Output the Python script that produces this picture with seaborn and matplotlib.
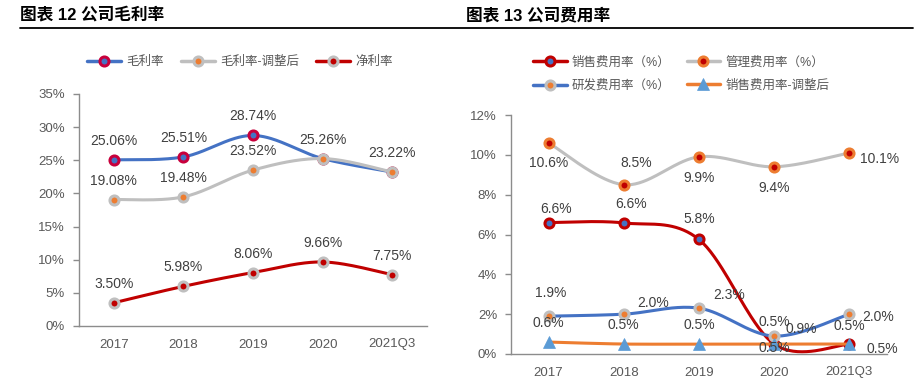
import numpy as np
import pandas as pd
import matplotlib
matplotlib.use("Agg")
import matplotlib.pyplot as plt
from matplotlib.lines import Line2D
import seaborn as sns

# data
years = ["2017", "2018", "2019", "2020", "2021Q3"]

gross = [25.06, 25.51, 28.74, 25.26, 23.22]
gross_adj = [19.08, 19.48, 23.52, 25.26, 23.22]
net = [3.50, 5.98, 8.06, 9.66, 7.75]

sales = [6.6, 6.58, 5.75, 0.5, 0.5]
admin = [10.6, 8.5, 9.9, 9.4, 10.1]
rnd = [1.9, 2.0, 2.3, 0.9, 2.0]
sales_adj = [0.6, 0.5, 0.5, 0.5, 0.5]

sns.set_style("white")
plt.rcParams["font.family"] = ["Liberation Sans", "Noto Sans CJK SC"]
plt.rcParams["axes.unicode_minus"] = False

BLUE, RED, GREY, ORANGE, LBLUE, CRIMSON = "#4472C4", "#C00000", "#BFBFBF", "#ED7D31", "#5B9BD5", "#C8003C"
TXT, TICK, SPINE = "#404040", "#595959", "#8C8C8C"


def smooth(yv, n=40):
    # Excel-like smoothed line (Catmull-Rom as cubic Bezier segments)
    pts = np.column_stack([np.arange(len(yv)), yv]).astype(float)
    p = np.vstack([pts[0], pts, pts[-1]])
    out = []
    t = np.linspace(0, 1, n)[:, None]
    for i in range(1, len(p) - 2):
        p0, p1, p2, p3 = p[i - 1], p[i], p[i + 1], p[i + 2]
        c1 = p1 + (p2 - p0) / 6
        c2 = p2 - (p3 - p1) / 6
        seg = (1 - t) ** 3 * p1 + 3 * (1 - t) ** 2 * t * c1 + 3 * (1 - t) * t ** 2 * c2 + t ** 3 * p2
        out.append(seg if i == 1 else seg[1:])
    s = np.vstack(out)
    return pd.DataFrame({"x": s[:, 0], "y": s[:, 1]})


def series(ax, vals, color, mface, medge, marker="o", ms=6.5, mew=2.2):
    d = smooth(vals)
    sns.lineplot(data=d, x="x", y="y", sort=False, estimator=None, ax=ax, color=color, lw=2.2)
    ax.plot(range(len(vals)), vals, ls="none", marker=marker, ms=ms, mfc=mface, mec=medge, mew=mew)


def labels(ax, vals, offs, fmt="{:.2f}%", skip=()):
    for i, (v, o) in enumerate(zip(vals, offs)):
        if i in skip:
            continue
        ax.annotate(fmt.format(v), (i, v), xytext=o, textcoords="offset pixels",
                    ha="center", va="center", fontsize=10, color=TXT)


def style(ax, ymax, step):
    ax.set_xlim(-0.5, 4.5)
    ax.set_ylim(0, ymax)
    ax.set_yticks(np.arange(0, ymax + 0.01, step))
    ax.set_yticklabels([f"{int(v)}%" for v in np.arange(0, ymax + 0.01, step)])
    ax.set_xticks(range(5))
    ax.set_xticklabels(years)
    ax.set_xticks(np.arange(-0.5, 4.6, 1), minor=True)
    ax.tick_params(axis="x", which="major", length=0, pad=9, labelsize=9.5, colors=TICK)
    ax.tick_params(axis="x", which="minor", length=4, width=1, color=SPINE, direction="out")
    ax.tick_params(axis="y", length=4, width=1, color=SPINE, direction="out", pad=6,
                   labelsize=9.5, labelcolor=TICK, left=True)
    for s in ["top", "right"]:
        ax.spines[s].set_visible(False)
    for s in ["left", "bottom"]:
        ax.spines[s].set_color(SPINE)
        ax.spines[s].set_linewidth(1)
    ax.set_xlabel("")
    ax.set_ylabel("")


fig = plt.figure(figsize=(9.23, 3.81), dpi=100)

# ---- left: margins
ax1 = fig.add_axes([79 / 923, 55 / 381, 348 / 923, 232 / 381])
series(ax1, gross, BLUE, BLUE, CRIMSON)
series(ax1, gross_adj, GREY, ORANGE, GREY)
series(ax1, net, RED, RED, GREY)
style(ax1, 35, 5)
up = [(0, 19)] * 5
labels(ax1, gross, up)
labels(ax1, gross_adj, up, skip=(3, 4))
labels(ax1, net, up)

h1 = [Line2D([], [], color=BLUE, lw=2.5, marker="o", ms=6.5, mfc=BLUE, mec=CRIMSON, mew=2.2),
      Line2D([], [], color=GREY, lw=2.5, marker="o", ms=6.5, mfc=ORANGE, mec=GREY, mew=2.2),
      Line2D([], [], color=RED, lw=2.5, marker="o", ms=6.5, mfc=RED, mec=GREY, mew=2.2)]
fig.legend(h1, ["毛利率", "毛利率-调整后", "净利率"], loc="center", bbox_to_anchor=(240 / 923, 1 - 62 / 381),
           ncol=3, frameon=False, fontsize=9, labelcolor=TICK, handlelength=2.7,
           handletextpad=0.4, columnspacing=1.4)

# ---- right: expense ratios
ax2 = fig.add_axes([511 / 923, 27 / 381, 376 / 923, 239 / 381])
series(ax2, sales, RED, BLUE, RED)
series(ax2, admin, GREY, RED, ORANGE)
series(ax2, rnd, BLUE, ORANGE, GREY)
series(ax2, sales_adj, ORANGE, LBLUE, LBLUE, marker="^", ms=8, mew=0.5)
style(ax2, 12, 2)
labels(ax2, admin, [(0, -20), (12, 22), (0, -21), (0, -21), (30, -6)], fmt="{:.1f}%")
labels(ax2, sales, [(7, 14), (7, 19), (0, 20), (0, -4), (33, -5)], fmt="{:.1f}%")
labels(ax2, rnd, [(2, 23), (29, 11), (30, 13), (27, 7), (29, -3)], fmt="{:.1f}%")
labels(ax2, sales_adj, [(0, 19), (0, 19), (0, 19), (0, 22), (0, 18)], fmt="{:.1f}%")

h2 = [Line2D([], [], color=RED, lw=2.5, marker="o", ms=6.5, mfc=BLUE, mec=RED, mew=2.2),
      Line2D([], [], color=BLUE, lw=2.5, marker="o", ms=6.5, mfc=ORANGE, mec=GREY, mew=2.2),
      Line2D([], [], color=GREY, lw=2.5, marker="o", ms=6.5, mfc=RED, mec=ORANGE, mew=2.2),
      Line2D([], [], color=ORANGE, lw=2.5, marker="^", ms=8, mfc=LBLUE, mec=LBLUE, mew=0.5)]
fig.legend(h2, ["销售费用率（%）", "研发费用率（%）", "管理费用率（%）", "销售费用率-调整后"],
           loc="center", bbox_to_anchor=(681 / 923, 1 - 74 / 381), ncol=2, frameon=False,
           fontsize=9, labelcolor=TICK, handlelength=2.7, handletextpad=0.4,
           columnspacing=1.3, labelspacing=0.9)

# titles and rule
fig.text(20 / 923, 1 - 15 / 381, "图表 12 公司毛利率", fontsize=12, fontweight="bold",
         va="center", ha="left", color="black")
fig.text(466 / 923, 1 - 15 / 381, "图表 13 公司费用率", fontsize=12, fontweight="bold",
         va="center", ha="left", color="black")
fig.add_artist(Line2D([20 / 923, 913 / 923], [1 - 28 / 381] * 2, color="black", lw=1.3))

fig.savefig("out.png", dpi=100)
